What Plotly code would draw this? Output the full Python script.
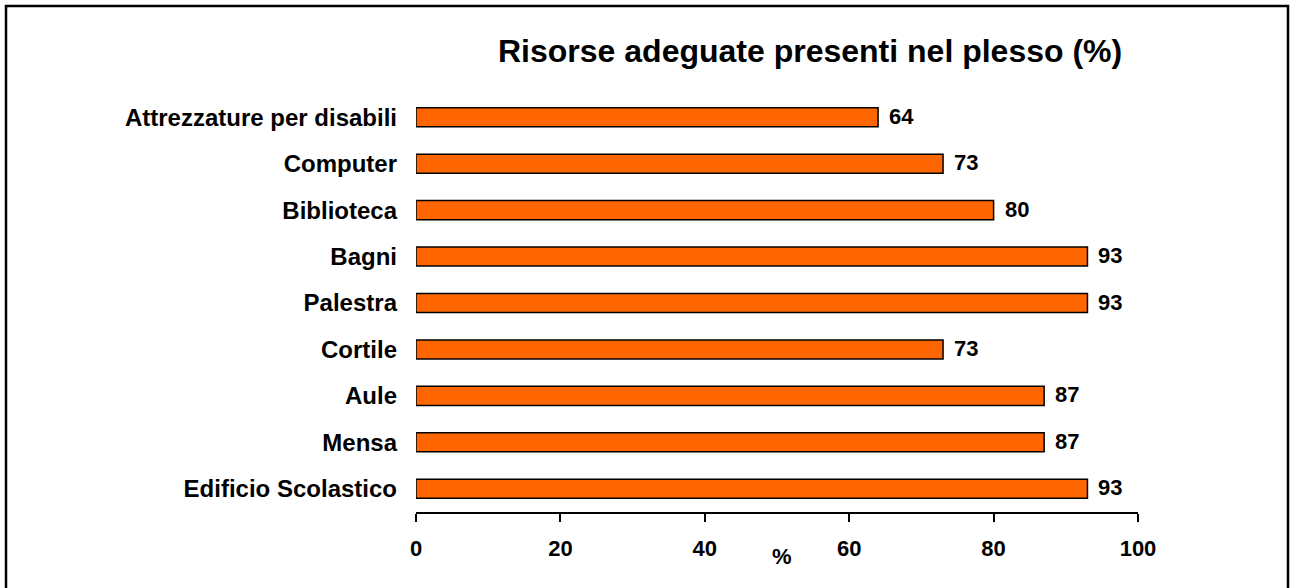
import plotly.graph_objects as go

categories = ["Edificio Scolastico", "Mensa", "Aule", "Cortile", "Palestra",
              "Bagni", "Biblioteca", "Computer", "Attrezzature per disabili"]
values = [93, 87, 87, 73, 93, 93, 80, 73, 64]
tick_vals = [0, 20, 40, 60, 80, 100]
title_text = "Risorse adeguate presenti nel plesso (%)"
x_title = "%"

W, H = 1291, 588
L, R, T, B = 416, 153, 94, 76
pw, ph = W - L - R, H - T - B
FONT = "Liberation Sans, Arial, sans-serif"

def px(x):
    return (x - L) / pw

def py(y):
    return (H - B - y) / ph

fig = go.Figure(go.Bar(
    y=categories, x=values, orientation="h",
    marker=dict(color="#FF6600", line=dict(color="#000000", width=1.5)),
    width=0.41, hoverinfo="x+y",
))

annotations = [
    dict(text=str(v), x=v, y=c, xref="x", yref="y", xanchor="left", yanchor="middle",
         xshift=9, yshift=1, showarrow=False,
         font=dict(size=22, family=FONT, color="#000000", weight="bold"))
    for c, v in zip(categories, values)
]
annotations += [
    dict(text=title_text, xref="paper", yref="paper",
         x=px(810), y=py(51), xanchor="center", yanchor="middle", showarrow=False,
         font=dict(size=32, family=FONT, color="#000000", weight="bold")),
    dict(text=x_title, xref="paper", yref="paper",
         x=px(782), y=py(556), xanchor="center", yanchor="middle", showarrow=False,
         font=dict(size=22, family=FONT, color="#000000", weight="bold")),
]

fig.update_layout(
    width=W, height=H,
    margin=dict(l=L, r=R, t=T, b=B),
    paper_bgcolor="#FFFFFF", plot_bgcolor="#FFFFFF",
    showlegend=False,
    font=dict(family=FONT, color="#000000"),
    xaxis=dict(range=[0, 100], tickvals=tick_vals, showline=True, linecolor="#000000",
               linewidth=1.5, ticks="outside", ticklen=8, tickwidth=1.5, tickcolor="#000000",
               showgrid=False, zeroline=False,
               tickfont=dict(size=22, family=FONT, weight="bold"),
               ticklabelstandoff=8),
    yaxis=dict(categoryorder="array", categoryarray=categories, range=[-0.5, 8.5],
               showline=False, showgrid=False, ticks="", zeroline=False,
               tickfont=dict(size=24, family=FONT, weight="bold"),
               ticklabelstandoff=18),
    annotations=annotations,
    shapes=[dict(type="rect", xref="paper", yref="paper",
                 x0=px(6), x1=px(1288), y0=py(600), y1=py(6),
                 line=dict(color="#000000", width=2.5), fillcolor="rgba(0,0,0,0)")],
)

fig.write_html("out.html", config={"displayModeBar": False},
               post_script="document.body.style.margin='0px';")
